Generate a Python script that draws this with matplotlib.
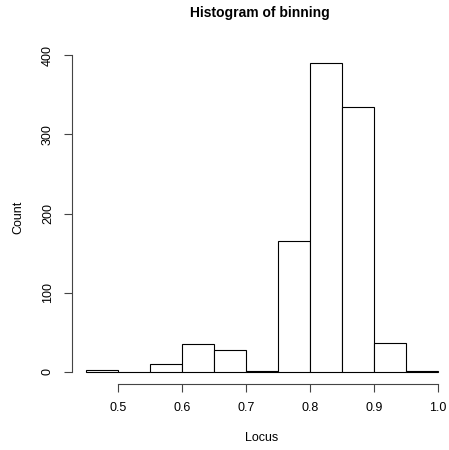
import numpy as np
import matplotlib.pyplot as plt

plt.rcParams['font.family'] = ['Liberation Sans', 'DejaVu Sans']

# histogram bins (breaks) and counts
breaks = [0.45, 0.50, 0.55, 0.60, 0.65, 0.70, 0.75, 0.80, 0.85, 0.90, 0.95, 1.00]
counts = [2, 0, 10, 35, 27, 1, 165, 390, 335, 36, 1]
x_ticks = [0.5, 0.6, 0.7, 0.8, 0.9, 1.0]
y_ticks = [0, 100, 200, 300, 400]

W, H = 449, 450
fig = plt.figure(figsize=(W / 100, H / 100), dpi=100)

# plot region in pixels (R-style margins)
left, right, top, bottom = 72, 452, 51, 384
ax = fig.add_axes([left / W, 1 - bottom / H, (right - left) / W, (bottom - top) / H])

edges = np.array(breaks)
ax.bar(edges[:-1], counts, width=np.diff(edges), align='edge',
       facecolor='white', edgecolor='black', linewidth=0.8)

xr = breaks[-1] - breaks[0]
ax.set_xlim(breaks[0] - 0.04 * xr, breaks[-1] + 0.04 * xr)
ymax = max(counts)
ax.set_ylim(-0.04 * ymax, ymax * 1.04)

for s in ['top', 'right']:
    ax.spines[s].set_visible(False)
ax.spines['bottom'].set_bounds(x_ticks[0], x_ticks[-1])
ax.spines['left'].set_bounds(y_ticks[0], y_ticks[-1])
for s in ['bottom', 'left']:
    ax.spines[s].set_linewidth(0.8)
    ax.spines[s].set_color('#444444')

ax.set_xticks(x_ticks)
ax.set_xticklabels([f"{v:.1f}" for v in x_ticks])
ax.set_yticks(y_ticks)
ax.set_yticklabels([str(v) for v in y_ticks], rotation=90, va='center')
ax.tick_params(axis='both', length=6, width=0.8, color='#444444', labelsize=9, pad=7)

ax.set_xlabel('Locus', fontsize=9, labelpad=13)
ax.set_ylabel('Count', fontsize=9, labelpad=13)
fig.text(260 / W, 1 - 13 / H, 'Histogram of binning', ha='center', va='center',
         fontsize=10, fontweight='bold')

fig.savefig('out.png', dpi=100)
